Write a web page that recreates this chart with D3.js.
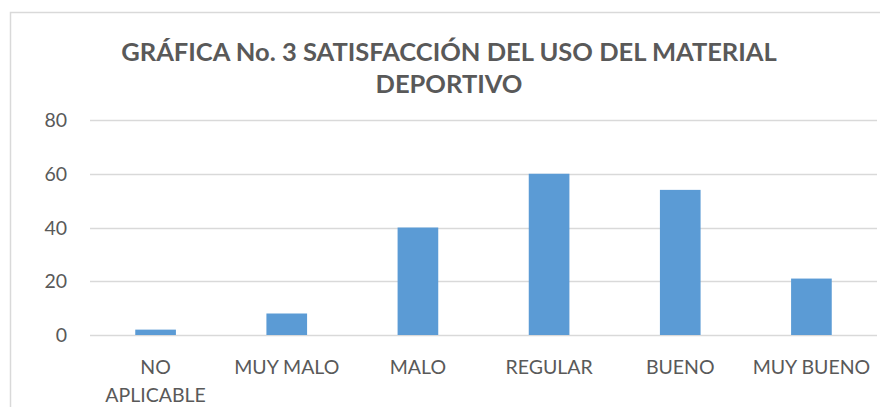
<!DOCTYPE html>
<html>
<head>
<meta charset="utf-8">
<title>Satisfacción del uso del material deportivo</title>
<script src="https://cdnjs.cloudflare.com/ajax/libs/d3/7.8.5/d3.min.js"></script>
<style>
    body, html {
        margin: 0;
        padding: 0;
        background: #fff;
        font-family: Lato, "Open Sans", sans-serif;
    }
    .tick-label, .cat-label {
        fill: #595959;
        font-size: 19.5px;
    }
    .title {
        fill: #595959;
        font-weight: bold;
        font-size: 25.5px;
    }
</style>
</head>
<body>
<div id="chart"></div>
<script>
    var categories = [['NO', 'APLICABLE'], ['MUY MALO'], ['MALO'], ['REGULAR'], ['BUENO'], ['MUY BUENO']];
    var values = [2, 8, 40, 60, 54, 21];
    var yTicks = [0, 20, 40, 60, 80];
    var titleLines = ['GRÁFICA No. 3 SATISFACCIÓN DEL USO DEL MATERIAL', 'DEPORTIVO'];

    var width = 880, height = 407;
    var plot = {left: 90, right: 877, top: 120, bottom: 335};

    var svg = d3.select('#chart')
        .append('svg')
        .attr('width', width)
        .attr('height', height);

    // chart frame (only top + left edges visible in the crop)
    svg.append('path')
        .attr('d', 'M10.5,' + height + 'V12.5H' + width)
        .attr('fill', 'none')
        .attr('stroke', '#d9d9d9')
        .attr('stroke-width', 1.5);

    var x = d3.scaleBand()
        .domain(d3.range(categories.length))
        .range([plot.left, plot.right])
        .paddingInner(0.69)
        .paddingOuter(0.345);

    var y = d3.scaleLinear()
        .domain([0, 80])
        .range([plot.bottom, plot.top]);

    // gridlines
    svg.append('g')
        .selectAll('line')
        .data(yTicks)
        .enter()
        .append('line')
        .attr('x1', plot.left)
        .attr('x2', plot.right)
        .attr('y1', function (d) { return Math.round(y(d)) + 0.5; })
        .attr('y2', function (d) { return Math.round(y(d)) + 0.5; })
        .attr('stroke', '#d9d9d9')
        .attr('stroke-width', 1.3);

    svg.append('g')
        .selectAll('text')
        .data(yTicks)
        .enter()
        .append('text')
        .attr('class', 'tick-label')
        .attr('x', 67)
        .attr('y', function (d) { return y(d) + 7; })
        .attr('text-anchor', 'end')
        .text(function (d) { return d; });

    // bars
    svg.append('g')
        .selectAll('rect')
        .data(values)
        .enter()
        .append('rect')
        .attr('x', function (d, i) { return x(i); })
        .attr('width', x.bandwidth())
        .attr('y', function (d) { return y(d); })
        .attr('height', function (d) { return y(0) - y(d); })
        .attr('fill', '#5b9bd5');

    // category labels
    var cat = svg.append('g')
        .selectAll('text')
        .data(categories)
        .enter()
        .append('text')
        .attr('class', 'cat-label')
        .attr('text-anchor', 'middle')
        .attr('x', function (d, i) { return x(i) + x.bandwidth() / 2; })
        .attr('y', 374);

    cat.selectAll('tspan')
        .data(function (d) { return d; })
        .enter()
        .append('tspan')
        .attr('x', function () { return d3.select(this.parentNode).attr('x'); })
        .attr('dy', function (d, i) { return i === 0 ? 0 : 28; })
        .text(function (d) { return d; });

    // title
    svg.append('g')
        .selectAll('text')
        .data(titleLines)
        .enter()
        .append('text')
        .attr('class', 'title')
        .attr('text-anchor', 'middle')
        .attr('x', 449)
        .attr('y', function (d, i) { return 61 + i * 32; })
        .text(function (d) { return d; });
</script>
</body>
</html>
